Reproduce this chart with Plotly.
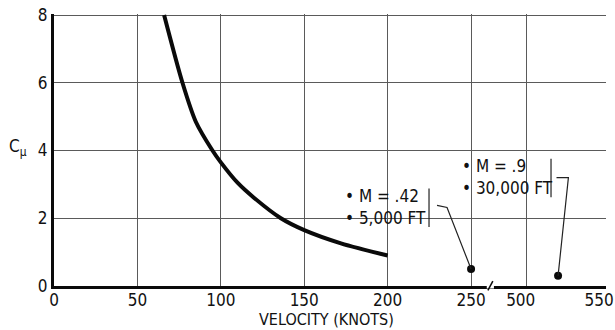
import plotly.graph_objects as go

# C_mu versus velocity (knots)
velocity = [66, 77, 85, 95, 100, 110, 120, 136, 150, 172, 200]
c_mu = [8.0, 6.0, 4.85, 4.0, 3.65, 3.05, 2.6, 2.0, 1.65, 1.26, 0.9]

# flight conditions
low_speed = [250]
low_cmu = [0.5]
high_speed = [520]
high_cmu = [0.3]

x_ticks_low = [0, 50, 100, 150, 200, 250]
x_ticks_high = [500, 550]
y_ticks = [0, 2, 4, 6, 8]

FONT = "DejaVu Sans Condensed, Liberation Sans Narrow, sans-serif"
GRID = "#5a5a5a"

fig = go.Figure()

fig.add_trace(go.Scatter(
    x=velocity, y=c_mu, mode="lines",
    line=dict(color="#0a0a0a", width=4, shape="spline", smoothing=0.8),
    xaxis="x", yaxis="y", showlegend=False, hoverinfo="skip",
))
fig.add_trace(go.Scatter(
    x=low_speed, y=low_cmu, mode="markers",
    marker=dict(color="#0a0a0a", size=8),
    xaxis="x", yaxis="y", showlegend=False,
))
fig.add_trace(go.Scatter(
    x=high_speed, y=high_cmu, mode="markers",
    marker=dict(color="#0a0a0a", size=8),
    xaxis="x2", yaxis="y", showlegend=False,
))

axis_common = dict(
    showgrid=True, gridcolor=GRID, gridwidth=1,
    zeroline=False, ticks="", automargin=False,
    showline=True, linecolor="#0a0a0a", linewidth=3,
    tickfont=dict(family=FONT, size=17, color="#111"),
)

fig.update_layout(
    width=615, height=330,
    margin=dict(l=54, r=9, t=14, b=44, autoexpand=False),
    paper_bgcolor="white", plot_bgcolor="white",
    xaxis=dict(domain=[0, 0.79], range=[0, 261.4], tickvals=x_ticks_low,
               anchor="y", ticklabelstandoff=-3, **axis_common),
    xaxis2=dict(domain=[0.79, 1.0], range=[476.6, 550.6], tickvals=x_ticks_high,
                anchor="y", ticklabelshift=-6, ticklabelstandoff=-3,
                ticklabeloverflow="allow", **axis_common),
    yaxis=dict(range=[0, 8.03], tickvals=y_ticks, anchor="x", **axis_common),
)

# leaders and brackets for the flight-condition notes
lead = dict(color="#222", width=1.2)
fig.add_shape(type="line", xref="x", yref="y", x0=224.8, x1=224.8, y0=1.74, y1=2.88, line=lead)
fig.add_shape(type="path", xref="x", yref="y",
              path=f"M 229.6,2.38 L 235.6,2.32 L {low_speed[0]},{low_cmu[0]}", line=lead)
fig.add_shape(type="line", xref="x2", yref="y", x0=515.5, x1=515.5, y0=2.62, y1=3.76, line=lead)
fig.add_shape(type="path", xref="x2", yref="y",
              path=f"M 519,3.2 L 526.6,3.2 L {high_speed[0]},{high_cmu[0]}", line=lead)

# axis break mark
fig.add_shape(type="line", xref="paper", yref="paper", x0=0.784, x1=0.797, y0=0, y1=0,
              line=dict(color="white", width=5))
fig.add_shape(type="line", xref="paper", yref="paper", x0=0.786, x1=0.795, y0=-0.016, y1=0.018,
              line=dict(color="#0a0a0a", width=1.5))

note_font = dict(family=FONT, size=17, color="#111")
fig.add_annotation(x=173, y=2.32, xref="x", yref="y", xanchor="left", yanchor="middle",
                   text="• M = .42<br>• 5,000 FT", align="left", showarrow=False, font=note_font)
fig.add_annotation(x=243.4, y=3.22, xref="x", yref="y", xanchor="left", yanchor="middle",
                   text="• M = .9<br>• 30,000 FT", align="left", showarrow=False, font=note_font)

fig.add_annotation(x=0.493, y=-0.122, xref="paper", yref="paper", yanchor="middle",
                   text="VELOCITY (KNOTS)", showarrow=False,
                   font=dict(family=FONT, size=16, color="#111"))
fig.add_annotation(x=-0.045, y=4, xref="paper", yref="y", xanchor="right", yshift=3,
                   text="C<sub>μ</sub>", showarrow=False,
                   font=dict(family=FONT, size=17, color="#111"))

fig.write_html("out.html", post_script="document.body.style.margin='0';",
               config={"displayModeBar": False})
